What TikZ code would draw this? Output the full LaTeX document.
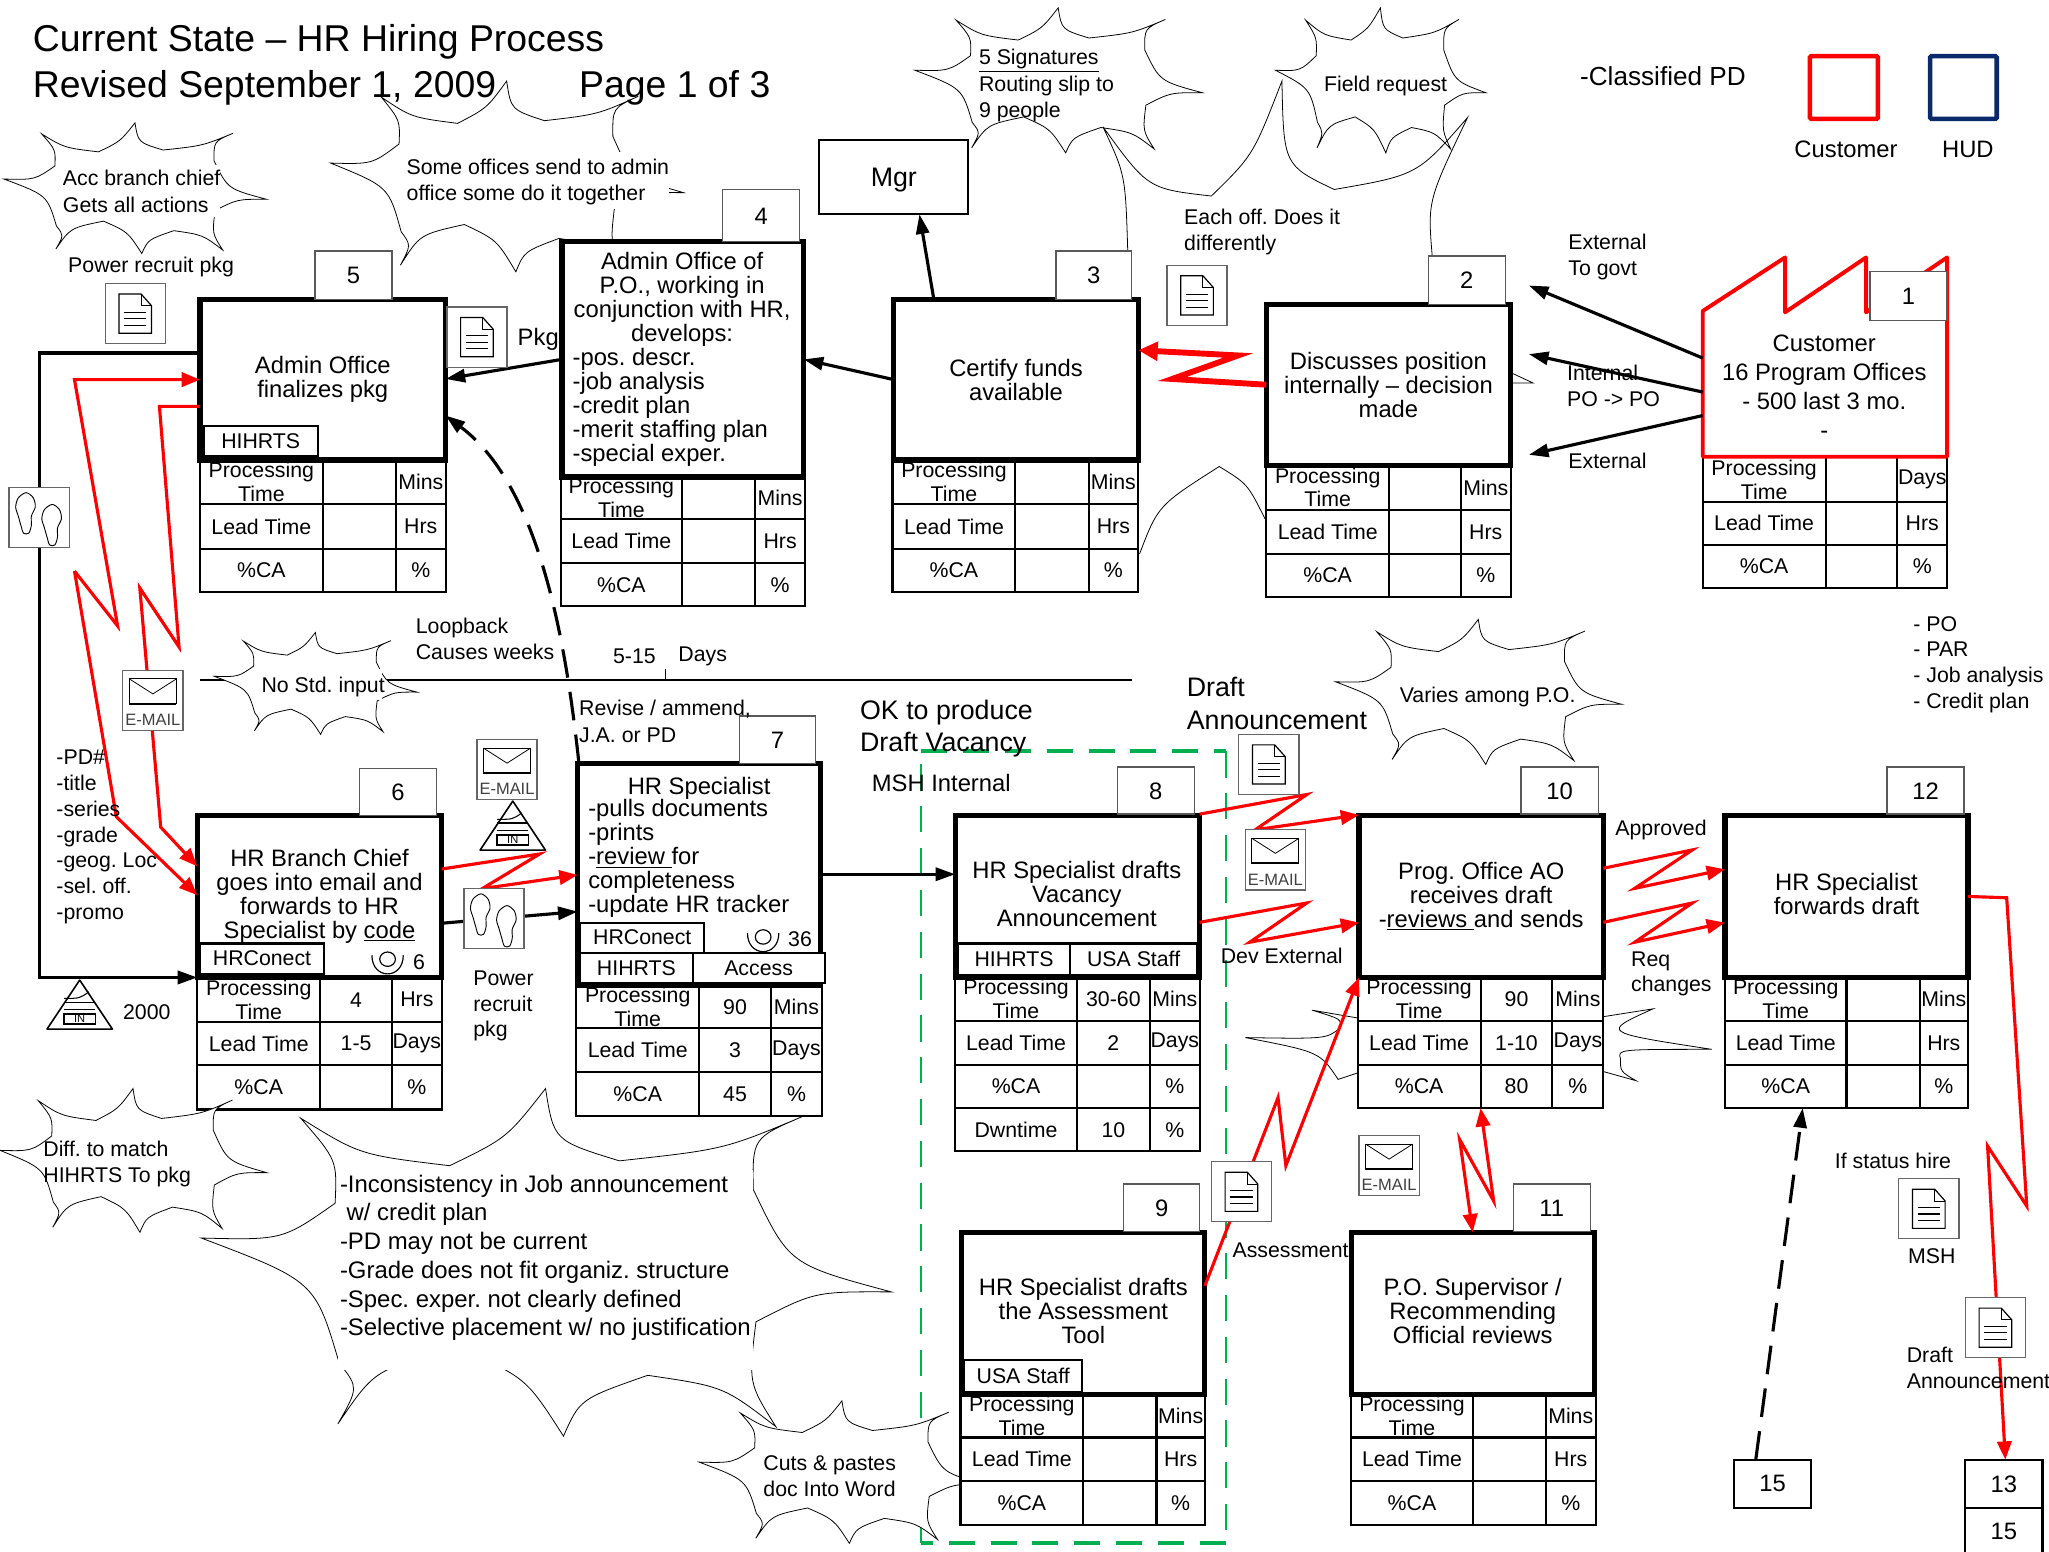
\documentclass[tikz,border=0pt]{standalone}
\usepackage{fontspec}
\setmainfont{Liberation Sans}
\usetikzlibrary{arrows.meta,calc}
\AtBeginDocument{\frenchspacing}
\definecolor{msgreen}{HTML}{00B050}
\definecolor{hudnavy}{HTML}{0B2A6B}
\newcounter{lbc}
\newcommand{\fA}{\fontsize{16.3}{20}\selectfont}
\newcommand{\fT}{\fontsize{16.3}{18.2}\selectfont}
\newcommand{\fB}{\fontsize{18.2}{18.4}\selectfont}
\newcommand{\bx}[7][]{%
  \pgfmathsetmacro\bxcx{(#3+#5)/2}\pgfmathsetmacro\bxcy{(#4+#6)/2}%
  \pgfmathsetmacro\bxw{#5-#3}\pgfmathsetmacro\bxh{#6-#4}%
  \node[draw,fill=white,inner sep=0pt,outer sep=0pt,minimum width=\bxw pt,minimum height=\bxh pt,align=center,#1] (#2) at (\bxcx,\bxcy) {#7};}
\newcommand{\lb}[4][]{\stepcounter{lbc}%
  \node[anchor=west,align=left,inner sep=0pt,font=\fA,yshift=-1.5pt,#1] (lb\thelbc) at (#2,#3) {#4};}
\newcommand{\rw}[9]{%
  \bx[tcell]{#1a}{#2}{#6}{#3}{#7}{#8}%
  \rwb{#1}{#3}{#4}{#5}{#6}{#7}{#9}}
\newcommand{\rwb}[7]{\bx[tcell]{#1b}{#2}{#5}{#3}{#6}{#7}\def\rwname{#1}\def\rwx{#3}\def\rwxx{#4}\def\rwy{#5}\def\rwyy{#6}\rwc}
\newcommand{\rwc}[1]{\bx[tcell]{\rwname c}{\rwx}{\rwy}{\rwxx}{\rwyy}{#1}}
\newcommand{\pb}[6]{\bx[pbox]{#1}{#2}{#3}{#4}{#5}{#6}}
\newcommand{\nm}[6]{\bx[numbox]{#1}{#2}{#3}{#4}{#5}{\raisebox{-6.5pt}[0pt][0pt]{#6}}}
\newcommand{\cloudn}[5][]{%
  \pgfmathsetmacro\cw{#4-#2}\pgfmathsetmacro\ch{#5-#3}%
  \begin{scope}[shift={(#2,#3)},xscale=\cw,yscale=\ch]
  \draw[cloudline,#1] (0,.43) .. controls (.118,.436) .. (.194,.33) .. controls (.197,.206) .. (.144,.085)
   .. controls (.23,.191) .. (.36,.222) .. controls (.443,.142) .. (.499,0) .. controls (.511,.15) .. (.606,.208)
   .. controls (.758,.175) .. (.872,.08) .. controls (.799,.142) .. (.8,.29) .. controls (.852,.506) .. (1,.585)
   .. controls (.889,.584) .. (.804,.671) .. controls (.793,.847) .. (.833,.973) .. controls (.757,.857) .. (.647,.825)
   .. controls (.549,.893) .. (.525,1) .. controls (.471,.833) .. (.379,.752) .. controls (.253,.804) .. (.198,.965)
   .. controls (.228,.86) .. (.2,.79) .. controls (.165,.554) .. (0,.43) -- cycle;
  \end{scope}}
\newcommand{\docic}[2]{\begin{scope}[shift={(#1,#2)}]
  \draw[iconline,fill=white] (-23,-23) rectangle (23,23);
  \draw[line width=.9pt] (-12.5,-15) -- (4.5,-15) -- (12.5,-6) -- (12.5,15) -- (-12.5,15) -- cycle;
  \draw[line width=.6pt] (4.5,-15) -- (4.5,-6) -- (12.5,-6);
  \draw[line width=.8pt] (-8.5,-1) -- (8.5,-1) (-8.5,4) -- (8.5,4) (-8.5,9) -- (8.5,9);
  \end{scope}}
\newcommand{\mailic}[2]{\begin{scope}[shift={(#1,#2)}]
  \draw[iconline,fill=white] (-23,-23) rectangle (23,23);
  \draw[line width=.8pt] (-18,-16.5) rectangle (18,2.7);
  \draw[line width=.6pt] (-18,-16.5) -- (0,-5) -- (18,-16.5);
  \draw[line width=1.6pt] (-18,2.7) -- (18,2.7);
  \node[inner sep=0pt,text=black!75,font=\fontsize{12.6}{13}\selectfont] (mt#1) at (0,15) {E-MAIL};
  \end{scope}}
\newcommand{\footp}{plot[smooth cycle] coordinates {(0,0)(5.5,4)(7,11)(4,18)(4,25)(2,31)(-2,31)(-4,25)(-6,18)(-8,11)(-6,4)}}
\newcommand{\footic}[2]{\begin{scope}[shift={(#1,#2)}]
  \draw[iconline,fill=white] (-23,-23) rectangle (23,23);
  \begin{scope}[shift={(-10,-19)}]\draw[line width=.7pt] \footp;\end{scope}
  \begin{scope}[shift={(10,-10)}]\draw[line width=.7pt] \footp;\end{scope}
  \end{scope}}
\newcommand{\inv}[2]{\begin{scope}[shift={(#1,#2)}]
  \draw[line width=1.2pt,fill=white,line join=round] (0,0) -- (25,37.5) -- (-25,37.5) -- cycle;
  \draw[line width=1.2pt] (-12,17) -- (12,17) (-12,22.5) -- (12,22.5);
  \draw[line width=.8pt] (-12,14) .. controls (0,14) .. (7,9);
  \draw[line width=1.1pt] (-12,26) rectangle (12,33.5);
  \node[inner sep=0pt,font=\fontsize{8.5}{9}\selectfont] (it#1) at (0,29.8) {IN};
  \end{scope}}
\newcommand{\oper}[2]{\begin{scope}[shift={(#1,#2)}]
  \draw[line width=.9pt] (0,-1) ellipse (6 and 5.5);
  \draw[line width=.9pt] (-12,-4) .. controls (-12,15) and (12,15) .. (12,-4);
  \end{scope}}
\tikzset{
  cloudline/.style={line width=.6pt,fill=white},
  iconline/.style={draw=black!60,line width=1pt},
  tcell/.style={line width=1.6pt,font=\fT},
  pbox/.style={line width=4pt,font=\fB},
  numbox/.style={draw=black!65,line width=1pt,font=\fB},
  sub/.style={line width=1.6pt,font=\fT},
  blk/.style={line width=2.4pt,-{Triangle[length=15pt,width=10pt]}},
  rd/.style={draw=red,line width=2.4pt,line join=miter,-{Triangle[length=14pt,width=11pt]}},
  rdb/.style={draw=red,line width=2.4pt,{Triangle[length=14pt,width=11pt]}-{Triangle[length=14pt,width=11pt]}},
  grn/.style={draw=msgreen,dash pattern=on 20pt off 12pt},
  x=1pt,y=-1pt
}
\begin{document}
\begin{tikzpicture}
\useasboundingbox (0,0) rectangle (1568,1187);
\fill[white] (0,0) rectangle (1568,1187);
% green dashed frame
\coordinate (ga) at (705,575); \coordinate (gb) at (938,575);
\coordinate (gc) at (938,1181); \coordinate (gd) at (705,1181);
\draw[grn,line width=3pt] (ga) -- (gb);
\draw[grn,line width=1.6pt] (gb) -- (gc);
\draw[grn,line width=3pt] (gc) -- (gd);
\draw[grn,line width=1.6pt] (gd) -- (ga);
% timeline
\coordinate (ta) at (153,520); \coordinate (tb) at (866,520);
\coordinate (tc) at (509,520); \coordinate (td) at (509,512);
\draw[line width=1.5pt] (ta) -- (tb);
\draw[line width=.8pt] (tc) -- (td);
% clouds
\cloudn{3}{94}{204}{194}
\fill[white] (44,126) rectangle (168,166);
\cloudn{253}{62}{523}{208}
\fill[white] (305,116) rectangle (512,160);
\cloudn{700}{6}{920}{117}
\cloudn{976}{6}{1137}{117}
\cloudn{164}{484}{319}{562}
\fill[white] (200,512) rectangle (292,536);
\cloudn{1022}{474}{1241}{585}
\cloudn{154}{833}{682}{1099}
\fill[white] (259,895) rectangle (576,1048);
\cloudn{535}{1072}{754}{1181}
% big unfilled cloud behind 3 and 2
\draw[line width=.6pt] (863,192) .. controls (861.2,133.7) .. (844,97) .. controls (878.5,144.5) .. (927,150)
  .. controls (959,118.7) .. (981,62) .. controls (982.3,126.5) .. (1021,145) .. controls (1084.7,134) .. (1123,90)
  .. controls (1092.5,153.7) .. (1096,196);
\draw[line width=.6pt] (872,424) .. controls (886.2,386.8) .. (933,357) .. controls (954.7,370.3) .. (968,397);
\draw[line width=.6pt] (1158,286) -- (1173,293) -- (1156,293);
% cloud behind 10
\draw[line width=.6pt] (1039,779) -- (1004,773) .. controls (1027,780) .. (1025,787) .. controls (1015,795) .. (953,794)
  .. controls (1010,805) .. (1024,826) -- (1039,821);
\draw[line width=.6pt] (1227,778) -- (1265,772) .. controls (1225,790) .. (1310,803) .. controls (1238,803) .. (1240,810)
  .. controls (1240,820) .. (1252,827) -- (1227,820);
% data tables
\rw{t5p}{153}{247}{303}{341}{352}{386}{Processing\\Time}{}{Mins}
\rw{t5l}{153}{247}{303}{341}{386}{420}{Lead Time}{}{Hrs}
\rw{t5c}{153}{247}{303}{341}{420}{453}{\%CA}{}{\%}
\rw{t4p}{429}{522}{578}{616}{365}{397}{Processing\\Time}{}{Mins}
\rw{t4l}{429}{522}{578}{616}{397}{431}{Lead Time}{}{Hrs}
\rw{t4c}{429}{522}{578}{616}{431}{464}{\%CA}{}{\%}
\rw{t3p}{683}{777}{833}{871}{352}{386}{Processing\\Time}{}{Mins}
\rw{t3l}{683}{777}{833}{871}{386}{420}{Lead Time}{}{Hrs}
\rw{t3c}{683}{777}{833}{871}{420}{453}{\%CA}{}{\%}
\rw{t2p}{969}{1063}{1118}{1156}{356}{390}{Processing\\Time}{}{Mins}
\rw{t2l}{969}{1063}{1118}{1156}{390}{424}{Lead Time}{}{Hrs}
\rw{t2c}{969}{1063}{1118}{1156}{424}{457}{\%CA}{}{\%}
\rw{t1p}{1303}{1397}{1452}{1490}{350}{384}{Processing\\Time}{}{Days}
\rw{t1l}{1303}{1397}{1452}{1490}{384}{417}{Lead Time}{}{Hrs}
\rw{t1c}{1303}{1397}{1452}{1490}{417}{450}{\%CA}{}{\%}
\rw{t6p}{151}{245}{300}{338}{748}{782}{Processing\\Time}{4}{Hrs}
\rw{t6l}{151}{245}{300}{338}{782}{815}{Lead Time}{1-5}{Days}
\rw{t6c}{151}{245}{300}{338}{815}{849}{\%CA}{}{\%}
\rw{t7p}{441}{535}{590}{629}{754}{787}{Processing\\Time}{90}{Mins}
\rw{t7l}{441}{535}{590}{629}{787}{820}{Lead Time}{3}{Days}
\rw{t7c}{441}{535}{590}{629}{820}{854}{\%CA}{45}{\%}
\rw{t8p}{731}{824}{880}{918}{748}{781}{Processing\\Time}{30-60}{Mins}
\rw{t8l}{731}{824}{880}{918}{781}{815}{Lead Time}{2}{Days}
\rw{t8c}{731}{824}{880}{918}{815}{848}{\%CA}{}{\%}
\rw{t8d}{731}{824}{880}{918}{848}{881}{Dwntime}{10}{\%}
\rw{t10p}{1039}{1133}{1188}{1227}{748}{781}{Processing\\Time}{90}{Mins}
\rw{t10l}{1039}{1133}{1188}{1227}{781}{815}{Lead Time}{1-10}{Days}
\rw{t10c}{1039}{1133}{1188}{1227}{815}{848}{\%CA}{80}{\%}
\rw{t12p}{1320}{1413}{1469}{1506}{748}{781}{Processing\\Time}{}{Mins}
\rw{t12l}{1320}{1413}{1469}{1506}{781}{815}{Lead Time}{}{Hrs}
\rw{t12c}{1320}{1413}{1469}{1506}{815}{848}{\%CA}{}{\%}
\rw{t9p}{735}{829}{885}{922}{1067}{1100}{Processing\\Time}{}{Mins}
\rw{t9l}{735}{829}{885}{922}{1100}{1133}{Lead Time}{}{Hrs}
\rw{t9c}{735}{829}{885}{922}{1133}{1167}{\%CA}{}{\%}
\rw{t11p}{1034}{1127}{1183}{1221}{1067}{1100}{Processing\\Time}{}{Mins}
\rw{t11l}{1034}{1127}{1183}{1221}{1100}{1133}{Lead Time}{}{Hrs}
\rw{t11c}{1034}{1127}{1183}{1221}{1133}{1167}{\%CA}{}{\%}
\cloudn{0}{833}{204}{943}
% process boxes
\draw[draw=red,line width=3pt,fill=white,line join=round] (1303,238) -- (1366,197) -- (1366,239) -- (1428,197) -- (1428,239) -- (1490,197) -- (1490,349.5) -- (1303,349.5) -- cycle;
\bx[draw=none,fill=none]{n1}{1303}{238}{1490}{349}{}
\pb{n5}{153}{229}{341}{352}{Admin Office\\finalizes pkg}
\pb{n4}{430}{185}{615}{365}{}
\pb{n3}{684}{229}{871}{352}{Certify funds\\available}
\pb{n2}{969}{233}{1156}{356}{Discusses position\\internally -- decision\\made}
\pb{n6}{151}{624}{338}{748}{HR Branch Chief\\goes into email and\\forwards to HR\\Specialist by \underline{code}}
\pb{n7}{442}{584}{628}{754}{}
\pb{n8}{731}{624}{918}{748}{}
\pb{n10}{1040}{624}{1227}{748}{Prog. Office AO\\receives draft\\-\underline{reviews\ }and sends}
\pb{n12}{1320}{624}{1506}{748}{}
\pb{n9}{736}{943}{922}{1067}{}
\pb{n11}{1034}{943}{1220}{1067}{}
% text in boxes with mixed alignment
\node[align=center,inner sep=0pt,font=\fB] (h4) at (522,229) {Admin Office of\\P.O., working in\\conjunction with HR,\\develops:};
\node[align=left,inner sep=0pt,font=\fB,anchor=west] (l4) at (438,312) {-pos. descr.\\-job analysis\\-credit plan\\-merit staffing plan\\-special exper.};
\node[align=center,inner sep=0pt,font=\fB] (h7) at (535,603) {HR Specialist};
\node[align=left,inner sep=0pt,font=\fB,anchor=west] (l7) at (450,657) {-pulls documents\\-prints\\-\underline{review\ }for\\completeness\\-update HR tracker};
\node[align=center,inner sep=0pt,font=\fB] (h8) at (824,684) {HR Specialist drafts\\Vacancy\\Announcement};
\node[align=center,inner sep=0pt,font=\fB] (h12) at (1413,684) {HR Specialist\\forwards draft};
\node[align=center,inner sep=0pt,font=\fB] (h9) at (829,1003) {HR Specialist drafts\\the Assessment\\Tool};
\node[align=center,inner sep=0pt,font=\fB] (h11) at (1127,1003) {P.O. Supervisor /\\Recommending\\Official reviews};
\node[align=center,inner sep=0pt,font=\fontsize{18.2}{22.2}\selectfont] (h1) at (1396,296) {Customer\\16 Program Offices\\- 500 last 3 mo.\\-};
% sub boxes
\bx[sub]{s5}{156}{326}{243}{349}{HIHRTS}
\bx[sub]{s6}{153}{722}{248}{745}{HRConect}
\bx[sub]{s7a}{444}{706}{539}{729}{HRConect}
\bx[sub]{s7b}{444}{729.5}{530}{752.5}{HIHRTS}
\bx[sub]{s7c}{530}{729.5}{631}{752.5}{Access}
\bx[sub]{s8a}{733}{722}{819}{746}{HIHRTS}
\bx[sub]{s8b}{819}{722}{916}{746}{USA Staff}
\bx[sub]{s9}{738}{1041}{828}{1065}{USA Staff}
% number boxes
\nm{b5}{241}{192}{300}{229}{5}
\nm{b4}{553}{145}{612}{185}{4}
\nm{b3}{808}{192}{866}{229}{3}
\nm{b2}{1093}{196}{1152}{233}{2}
\nm{b1}{1431}{208}{1490}{245}{1}
\nm{b6}{275}{588}{334}{624}{6}
\nm{b7}{566}{548}{624}{584}{7}
\nm{b8}{855}{587}{914}{623}{8}
\nm{b10}{1164}{587}{1223}{623}{10}
\nm{b12}{1444}{587}{1503}{623}{12}
\nm{b9}{860}{906}{918}{942.5}{9}
\nm{b11}{1158}{906}{1217}{942.5}{11}
\bx[line width=1.6pt,font=\fontsize{20.5}{22}\selectfont]{mgr}{627}{107}{741}{164}{\raisebox{-7.5pt}[0pt][0pt]{Mgr}}
\bx[line width=1.6pt,font=\fB]{e15}{1327}{1117}{1386}{1154}{15}
\bx[line width=1.6pt,font=\fB]{e13}{1504}{1117}{1563}{1154}{13}
\bx[line width=1.6pt,font=\fB]{e15b}{1504}{1154}{1563}{1190}{15}
\bx[draw=red,line width=3.5pt,fill=none,rounded corners=1pt]{lgc}{1385}{43}{1437}{91}{}
\bx[draw=hudnavy,line width=3.5pt,fill=none,rounded corners=1pt]{lgh}{1477}{43}{1528}{91}{}
% free ends
\coordinate (k1) at (1170,218.5);
\coordinate (k2) at (1170,271);
\coordinate (k3) at (1170,348);
% black connectors
\draw[blk] (n1.west |- 0,274) -- (k1);
\draw[blk] (n1.west |- 0,300) -- (k2);
\draw[blk] (n1.west |- 0,318) -- (k3);
\draw[blk] (n3.north -| 714.6,0) -- (mgr.south -| 703.6,0);
\draw[blk] (n3.west |- 0,290.5) -- (n4.east |- 0,275);
\draw[blk] (n4.west |- 0,275) -- (n5.east |- 0,290);
\draw[blk,dash pattern=on 22pt off 11pt] (n7.north -| 443,0) .. controls (432,480) and (410,370) .. (n5.east |- 0,318);
\draw[line width=2.6pt,-{Triangle[length=15pt,width=10pt]}] (n5.west |- 0,270) -- (30,270) -- (30,748) -- (n6.south west);
\draw[blk] (n6.east |- 0,706.5) -- (n7.west |- 0,697.6);
\draw[blk] (n7.east |- 0,669) -- (n8.west |- 0,669);
\draw[blk,dash pattern=on 22pt off 11pt] (e15.north -| 1343.6,0) -- (t12cb.south -| 1379.5,0);
% red connectors
\draw[draw=red,line width=4.5pt,line join=miter,-{Triangle[length=15pt,width=14pt]}] (n2.west |- 0,294.4) -- (897,290) -- (947.5,272) -- (n3.east |- 0,268);
\draw[rd] (57,437) -- (89,625) -- (n6.west |- 0,685);
\draw[rd] (57,437) -- (90,479) -- (57,290.5) -- (n5.west |- 0,290.5);
\draw[rd] (n5.west |- 0,311) -- (122,311) -- (137,495) -- (107,450) -- (123,633) -- (n6.west |- 0,663);
\draw[rd] (n6.east |- 0,665) -- (413,653.5) -- (369,680) -- (n7.west |- 0,669.5);
\draw[rd] (n8.east |- 0,623) -- (1000,608) -- (960.5,635) -- (n10.west |- 0,623.6);
\draw[rd] (n8.east |- 0,705.8) -- (1000,691) -- (956.4,721) -- (n10.west |- 0,706);
\draw[rd] (n10.east |- 0,664.4) -- (1295,650.4) -- (1251,679.8) -- (n12.west |- 0,665.2);
\draw[rd] (n10.east |- 0,705.8) -- (1295,691) -- (1251,721) -- (n12.west |- 0,706);
\draw[rd] (n9.east |- 0,984) -- (978,840) -- (984,892) -- (n10.south west);
\draw[rdb] (n11.north -| 1127,0) -- (1117,872) -- (1143,919) -- (t10cb.south -| 1133,0);
\draw[rd] (n12.east |- 0,686) -- (1535.6,687) -- (1551,923) -- (1521,877) -- (e13.north -| 1534.6,0);
% icons
\docic{103.5}{240} \docic{365}{258} \docic{916}{226} \docic{971}{585} \docic{950}{912} \docic{1476}{925} \docic{1527}{1016}
\mailic{117}{536} \mailic{388}{589} \mailic{976}{658} \mailic{1063}{892}
\footic{30}{396} \footic{378}{703}
\inv{61}{750} \inv{392.4}{613}
\oper{296.6}{735} \oper{584}{718}
% labels
\lb[font=\fontsize{28.6}{34}\selectfont]{25}{30.5}{Current State -- HR Hiring Process}
\lb[font=\fontsize{28.6}{34}\selectfont]{25}{65.5}{Revised September 1, 2009}
\lb[font=\fontsize{28.6}{34}\selectfont]{443}{65.5}{Page 1 of 3}
\lb{48}{145}{Acc branch chief\\Gets all actions}
\lb{311}{138}{Some offices send to admin\\office some do it together}
\lb{52}{203}{Power recruit pkg}
\lb[font=\fB]{396}{258}{Pkg}
\lb{749}{64}{\underline{5 Signatures}\\Routing slip to\\9 people}
\lb{1013}{64}{Field request}
\lb{906}{176}{Each off. Does it\\differently}
\lb{1200}{195}{External\\To govt}
\lb{1199}{294}{Internal\\PO -> PO}
\lb{1200}{351}{External}
\lb[font=\fontsize{20}{22}\selectfont]{1209}{56.5}{-Classified PD}
\lb[font=\fB]{1373}{112.5}{Customer}
\lb[font=\fB]{1486}{112.5}{HUD}
\lb{318}{487.5}{Loopback\\Causes weeks}
\lb{469}{501}{5-15}
\lb{519}{501}{Days}
\lb{200}{524}{No Std. input}
\lb{443}{550.5}{Revise / ammend,\\J.A. or PD}
\lb[font=\fontsize{20.5}{24.5}\selectfont]{658}{556}{OK to produce\\Draft Vacancy}
\lb[font=\fB]{667}{598}{MSH Internal}
\lb[font=\fontsize{20.5}{25}\selectfont]{908}{537}{Draft\\Announcement}
\lb{1071}{532}{Varies among P.O.}
\lb[font=\fontsize{16.3}{19.6}\selectfont]{1464}{507}{- PO\\- PAR\\- Job analysis\\- Credit plan}
\lb[font=\fontsize{16.3}{19.7}\selectfont]{43}{639}{-PD\#\\-title\\-series\\-grade\\-geog. Loc\\-sel. off.\\-promo}
\lb[font=\fontsize{16.3}{19.5}\selectfont]{362}{768.5}{Power\\recruit\\pkg}
\lb{94}{773}{2000}
\lb{1236}{634}{Approved}
\lb[font=\fontsize{16.3}{19}\selectfont]{1248}{744}{Req\\changes}
\lb{934}{730}{Dev External}
\lb{943}{955}{Assessment}
\lb{1404}{887}{If status hire}
\lb{1460}{960}{MSH}
\lb{1459}{1045.5}{Draft\\Announcement}
\lb{33}{889}{Diff. to match\\HIHRTS To pkg}
\lb[font=\fontsize{18.3}{22}\selectfont]{260}{961}{-Inconsistency in Job announcement\\ \ w/ credit plan\\-PD may not be current\\-Grade does not fit organiz. structure\\-Spec. exper. not clearly defined\\-Selective placement w/ no justification}
\lb{584}{1128}{Cuts \& pastes\\doc Into Word}
\lb{316}{735}{6}
\lb{603}{717}{36}
\end{tikzpicture}
\end{document}
